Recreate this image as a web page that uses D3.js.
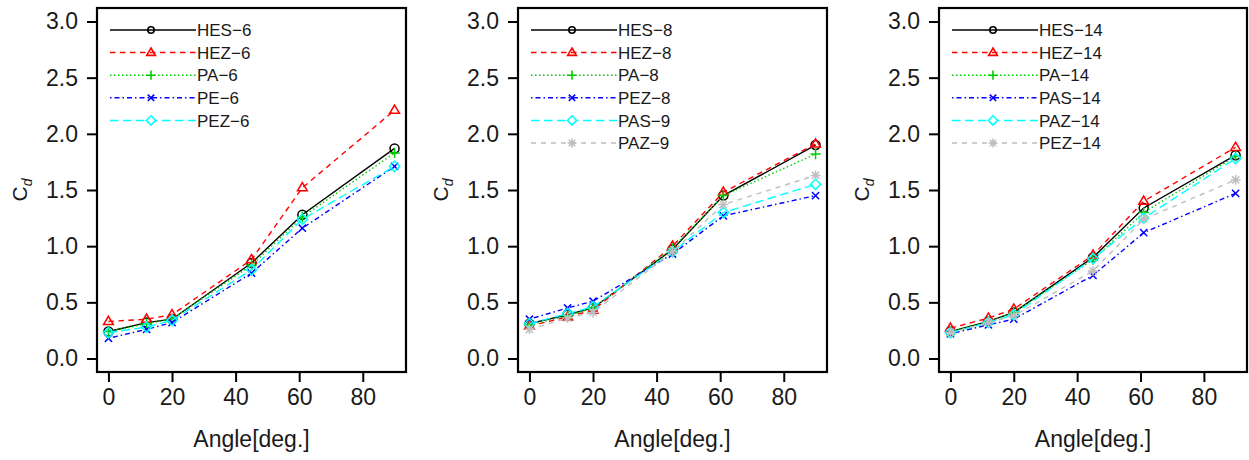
<!DOCTYPE html>
<html><head><meta charset="utf-8">
<script src="https://cdn.jsdelivr.net/npm/d3@7"></script>
<style>body{margin:0;background:#fff}svg{display:block}text{font-family:"Liberation Sans",Arial,sans-serif}</style>
</head><body><svg id="c" width="1249" height="460"></svg>
<script>
const angles = [0, 12, 20, 45, 61, 90];
const xTicks = [0, 20, 40, 60, 80];
const yTicks = [0, 0.5, 1.0, 1.5, 2.0, 2.5, 3.0];

const names1 = ["HES−6", "HEZ−6", "PA−6", "PE−6", "PEZ−6"];
const hes6 = [0.24, 0.32, 0.35, 0.85, 1.28, 1.87];
const hez6 = [0.33, 0.35, 0.39, 0.88, 1.52, 2.21];
const pa6  = [0.24, 0.31, 0.35, 0.83, 1.26, 1.83];
const pe6  = [0.18, 0.26, 0.32, 0.76, 1.16, 1.71];
const pez6 = [0.23, 0.28, 0.34, 0.79, 1.24, 1.71];

const names2 = ["HES−8", "HEZ−8", "PA−8", "PEZ−8", "PAS−9", "PAZ−9"];
const hes8 = [0.31, 0.39, 0.45, 0.97, 1.45, 1.90];
const hez8 = [0.29, 0.37, 0.43, 1.00, 1.48, 1.91];
const pa8  = [0.30, 0.38, 0.45, 0.98, 1.45, 1.82];
const pez8 = [0.35, 0.45, 0.51, 0.93, 1.27, 1.45];
const pas9 = [0.31, 0.40, 0.46, 0.95, 1.30, 1.55];
const paz9 = [0.26, 0.36, 0.41, 0.95, 1.37, 1.63];

const names3 = ["HES−14", "HEZ−14", "PA−14", "PAS−14", "PAZ−14", "PEZ−14"];
const hes14 = [0.24, 0.33, 0.41, 0.90, 1.34, 1.81];
const hez14 = [0.27, 0.36, 0.44, 0.92, 1.40, 1.88];
const pa14  = [0.24, 0.33, 0.41, 0.88, 1.30, 1.80];
const pas14 = [0.22, 0.30, 0.35, 0.74, 1.12, 1.47];
const paz14 = [0.23, 0.32, 0.39, 0.89, 1.25, 1.78];
const pez14 = [0.23, 0.32, 0.38, 0.78, 1.24, 1.59];

const colors = ["#000000", "#FF0000", "#00CD00", "#0000FF", "#00FFFF", "#BEBEBE"];
const dashes = ["none", "5.5,4.5", "1.5,2.5", "1.5,3,5,3", "8.5,4.5", "5,5"];
const shapes = ["circle", "triangle", "plus", "cross", "diamond", "star"];

const panels = [
  {left: 97,  right: 406,  names: names1, series: [hes6, hez6, pa6, pe6, pez6]},
  {left: 518, right: 827,  names: names2, series: [hes8, hez8, pa8, pez8, pas9, paz9]},
  {left: 939, right: 1247, names: names3, series: [hes14, hez14, pa14, pas14, paz14, pez14]}
];
const plotTop = 8, plotBottom = 372;

function marker(type, s) {
  const r = s;
  switch (type) {
    case "circle": return `M${-r},0A${r},${r} 0 1,0 ${r},0A${r},${r} 0 1,0 ${-r},0Z`;
    case "triangle": { const h = r * 1.15; return `M0,${-h}L${h*0.95},${h*0.6}L${-h*0.95},${h*0.6}Z`; }
    case "plus": return `M${-r*1.15},0H${r*1.15}M0,${-r*1.15}V${r*1.15}`;
    case "cross": { const a = r * 0.8; return `M${-a},${-a}L${a},${a}M${-a},${a}L${a},${-a}`; }
    case "diamond": { const a = r * 1.15; return `M0,${-a}L${a},0L0,${a}L${-a},0Z`; }
    case "star": { const a = r * 1.1, b = r * 0.8; return `M${-a},0H${a}M0,${-a}V${a}M${-b},${-b}L${b},${b}M${-b},${b}L${b},${-b}`; }
  }
}

const svg = d3.select("#c");
panels.forEach(p => {
  const x = d3.scaleLinear().domain([-3.6, 93.6]).range([p.left, p.right]);
  const y = d3.scaleLinear().domain([-0.12, 3.12]).range([plotBottom, plotTop]);
  const g = svg.append("g");

  const ya = g.append("g").attr("transform", `translate(${p.left},0)`)
    .call(d3.axisLeft(y).tickValues(yTicks).tickFormat(d3.format(".1f")).tickSize(10).tickPadding(9));
  const xa = g.append("g").attr("transform", `translate(0,${plotBottom})`)
    .call(d3.axisBottom(x).tickValues(xTicks).tickSize(10).tickPadding(7));
  [ya, xa].forEach(a => {
    a.select(".domain").remove();
    a.selectAll("line").attr("stroke", "#000").attr("stroke-width", 2);
    a.selectAll("text").attr("font-size", 23).attr("fill", "#1a1a1a");
  });

  const line = d3.line().x((d, i) => x(angles[i])).y(d => y(d));
  p.series.forEach((s, k) => {
    g.append("path").datum(s).attr("d", line).attr("fill", "none")
      .attr("stroke", colors[k]).attr("stroke-width", 1.4).attr("stroke-dasharray", dashes[k]);
    g.selectAll(null).data(s).enter().append("path")
      .attr("transform", (d, i) => `translate(${x(angles[i])},${y(d)})`)
      .attr("d", marker(shapes[k], 4.5)).attr("fill", "none")
      .attr("stroke", colors[k]).attr("stroke-width", 1.5);
  });

  g.append("rect").attr("x", p.left).attr("y", plotTop).attr("width", p.right - p.left).attr("height", plotBottom - plotTop)
    .attr("fill", "none").attr("stroke", "#000").attr("stroke-width", 2.2);

  p.names.forEach((n, k) => {
    const ly = 30 + k * 22.6;
    const lg = g.append("g");
    lg.append("line").attr("x1", p.left + 13).attr("x2", p.left + 99).attr("y1", ly).attr("y2", ly)
      .attr("stroke", colors[k]).attr("stroke-width", 1.5).attr("stroke-dasharray", dashes[k]);
    lg.append("path").attr("transform", `translate(${p.left + 54},${ly})`).attr("d", marker(shapes[k], k === 0 ? 3.2 : 4))
      .attr("fill", k === 4 ? "#fff" : "none").attr("stroke", colors[k]).attr("stroke-width", 1.6);
    lg.append("text").attr("x", p.left + 100).attr("y", ly).attr("dy", "0.36em")
      .attr("font-size", 17).attr("fill", "#1a1a1a").text(n);
  });

  g.append("text").attr("x", (p.left + p.right) / 2).attr("y", 447).attr("text-anchor", "middle")
    .attr("font-size", 23).attr("fill", "#1a1a1a").text("Angle[deg.]");
  const yl = g.append("text").attr("transform", `translate(${p.left - 70},${(plotTop + plotBottom) / 2}) rotate(-90)`)
    .attr("text-anchor", "middle").attr("font-size", 21).attr("fill", "#1a1a1a");
  yl.append("tspan").text("C");
  yl.append("tspan").attr("font-size", 14).attr("font-style", "italic").attr("dy", 5).text("d");
});
</script></body></html>
